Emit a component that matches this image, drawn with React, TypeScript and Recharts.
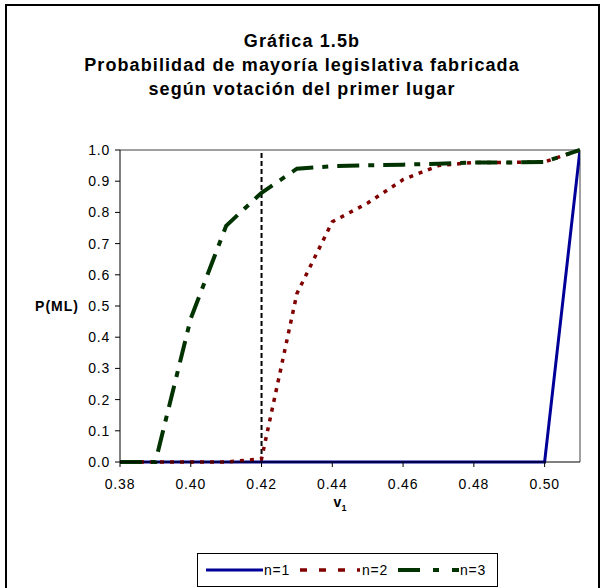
import React from 'react'
import { LineChart, Line, XAxis, YAxis, ReferenceLine } from 'recharts'

// v1 values (share of vote of the first place)
const V1 = [0.38, 0.39, 0.4, 0.41, 0.42, 0.43, 0.44, 0.45, 0.46, 0.47, 0.48, 0.49, 0.5, 0.51]

// P(ML) per n
const N1 = [0, 0, 0, 0, 0, 0, 0, 0, 0, 0, 0, 0, 0, 1.0]
const N2 = [0, 0, 0, 0, 0.01, 0.54, 0.77, 0.83, 0.905, 0.95, 0.96, 0.96, 0.962, 1.0]
const N3 = [0, 0, 0.46, 0.757, 0.863, 0.94, 0.948, 0.951, 0.953, 0.956, 0.96, 0.96, 0.962, 1.0]

const X_TICKS = [0.38, 0.4, 0.42, 0.44, 0.46, 0.48, 0.5]
const Y_TICKS = [0, 0.1, 0.2, 0.3, 0.4, 0.5, 0.6, 0.7, 0.8, 0.9, 1.0]

const TITLE = ['Gráfica 1.5b', 'Probabilidad de mayoría legislativa fabricada', 'según votación del primer lugar']

const data = V1.map((v, i) => ({ v, n1: N1[i], n2: N2[i], n3: N3[i] }))

const FONT = '"Liberation Sans", Arial, sans-serif'

const BLUE = '#000099'
const RED = '#800000'
const GREEN = '#003300'

const XTick = (props: any) => {
  const { x, y, payload } = props
  return (
    <text x={x} y={y + 20} textAnchor="middle" fontSize={14} fontFamily={FONT} fill="#000" letterSpacing={0.8}>
      {Number(payload.value).toFixed(2)}
    </text>
  )
}

const YTick = (props: any) => {
  const { x, y, payload } = props
  return (
    <text x={x} y={y + 5} textAnchor="end" fontSize={14} fontFamily={FONT} fill="#000" letterSpacing={0.8}>
      {Number(payload.value).toFixed(1)}
    </text>
  )
}

export default function App() {
  return (
    <div style={{ position: 'absolute', left: 0, top: 0, width: 604, height: 588, background: '#fff', fontFamily: FONT, overflow: 'hidden' }}>
      {/* outer chart frame */}
      <div style={{ position: 'absolute', left: 5, top: 4, width: 595, height: 600, border: '2px solid #000', boxSizing: 'border-box' }} />

      {/* title */}
      <div style={{ position: 'absolute', left: 0, top: 29, width: 604, textAlign: 'center', fontWeight: 'bold', fontSize: 18, letterSpacing: 1.1, lineHeight: '24px', color: '#000' }}>
        {TITLE.map((t) => (
          <div key={t}>{t}</div>
        ))}
      </div>

      <div style={{ position: 'absolute', left: 0, top: 0 }}>
        <LineChart width={604} height={588} data={data} margin={{ top: 150, right: 24, bottom: 0, left: 0 }}>
          <XAxis
            dataKey="v"
            type="number"
            domain={[0.38, 0.51]}
            ticks={X_TICKS}
            allowDataOverflow
            stroke="#000"
            tickSize={5}
            tickMargin={2}
            height={126}
            tick={<XTick />}
            tickLine={{ stroke: '#000' }}
          />
          <YAxis
            type="number"
            domain={[0, 1]}
            ticks={Y_TICKS}
            stroke="#000"
            width={120}
            tickSize={5}
            tickMargin={5}
            tick={<YTick />}
            tickLine={{ stroke: '#000' }}
          />
          <ReferenceLine y={1} stroke="#a0a0a0" strokeWidth={2} />
          <ReferenceLine x={0.51} stroke="#a0a0a0" strokeWidth={2} />
          <ReferenceLine x={0.42} stroke="#000" strokeWidth={2} strokeDasharray="5 3" />
          <Line dataKey="n1" stroke={BLUE} strokeWidth={3} dot={false} isAnimationActive={false} />
          <Line dataKey="n2" stroke={RED} strokeWidth={3.5} strokeDasharray="4 6" dot={false} isAnimationActive={false} />
          <Line dataKey="n3" stroke={GREEN} strokeWidth={4} strokeDasharray="22 9 6 9" dot={false} isAnimationActive={false} />
        </LineChart>
      </div>

      {/* axis titles */}
      <div style={{ position: 'absolute', left: 10, top: 298, width: 69, textAlign: 'right', fontWeight: 'bold', fontSize: 14, letterSpacing: 1 }}>P(ML)</div>
      <div style={{ position: 'absolute', left: 300, top: 494, width: 80, textAlign: 'center', fontWeight: 'bold', fontSize: 14, lineHeight: '16px' }}>
        v<sub style={{ fontSize: 9 }}>1</sub>
      </div>

      {/* legend */}
      <div style={{ position: 'absolute', left: 197, top: 553, width: 301, height: 34, border: '1px solid #000', boxSizing: 'border-box', background: '#fff' }}>
        <svg width={299} height={32} style={{ position: 'absolute', left: 0, top: 0 }}>
          <line x1={8} x2={65} y1={16} y2={16} stroke={BLUE} strokeWidth={3} />
          <text x={66} y={21} fontSize={14} fontFamily={FONT} letterSpacing={0.8}>n=1</text>
          <line x1={102} x2={162} y1={16} y2={16} stroke={RED} strokeWidth={3.5} strokeDasharray="7 12" />
          <text x={164} y={21} fontSize={14} fontFamily={FONT} letterSpacing={0.8}>n=2</text>
          <line x1={200} x2={261} y1={16} y2={16} stroke={GREEN} strokeWidth={4} strokeDasharray="22 13 6 13" />
          <text x={262} y={21} fontSize={14} fontFamily={FONT} letterSpacing={0.8}>n=3</text>
        </svg>
      </div>
    </div>
  )
}
